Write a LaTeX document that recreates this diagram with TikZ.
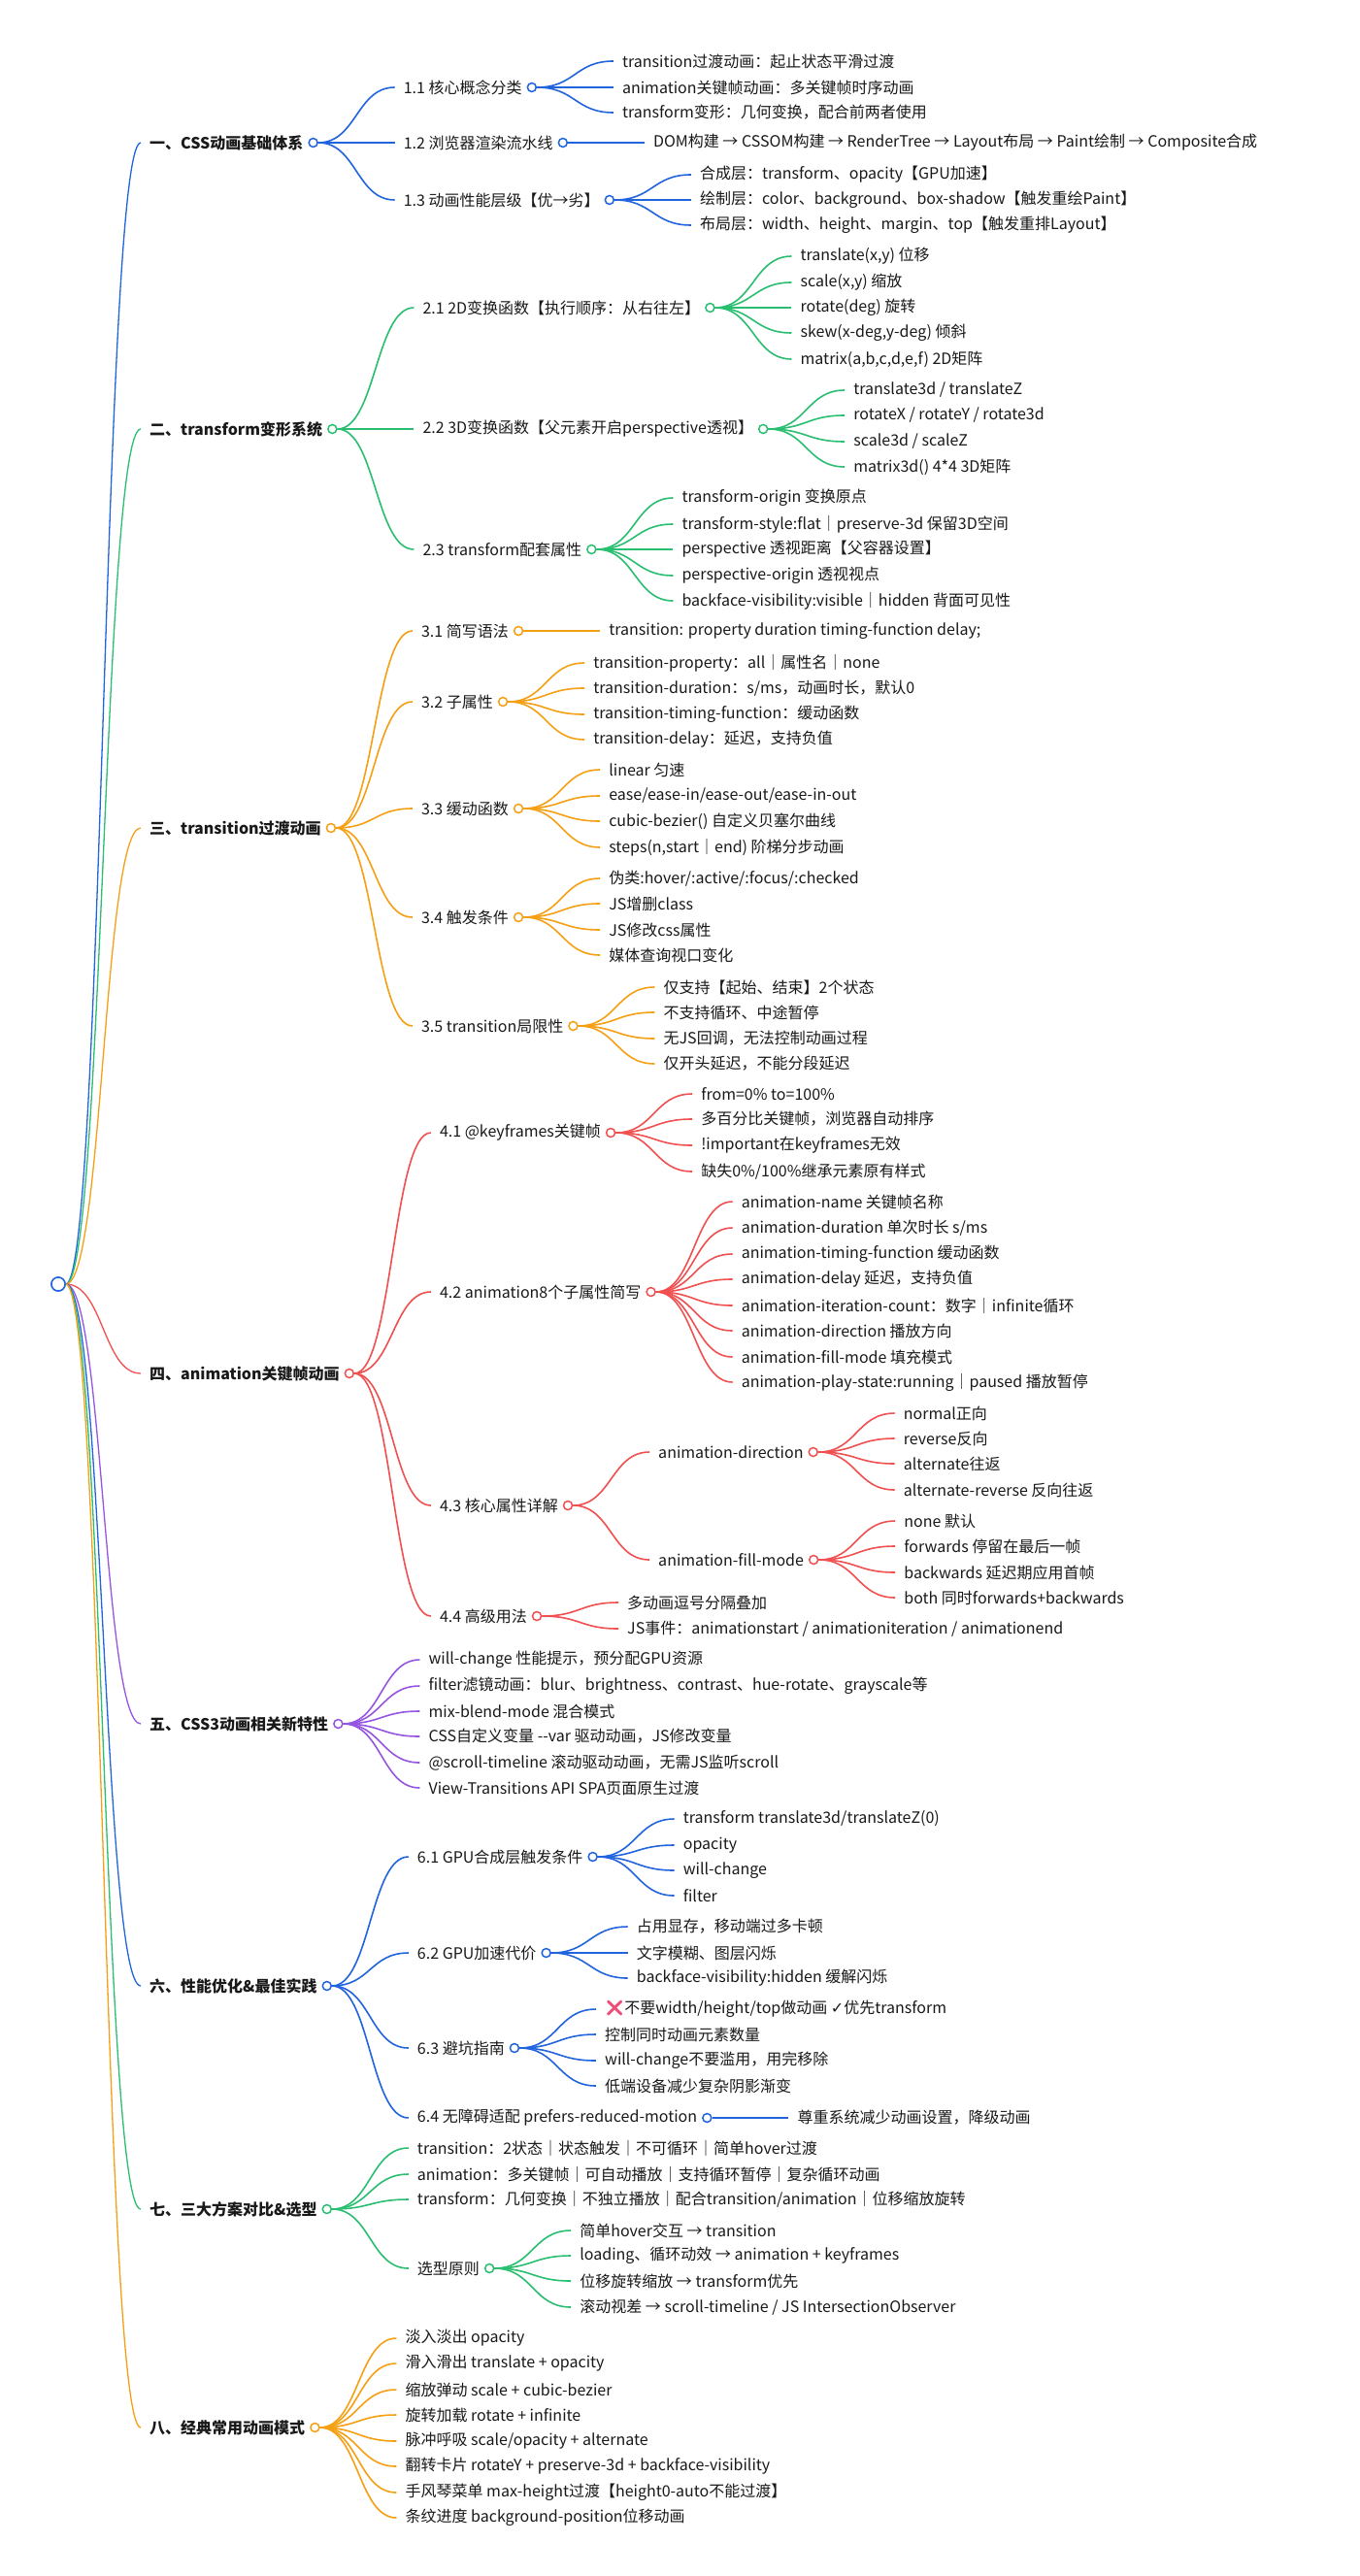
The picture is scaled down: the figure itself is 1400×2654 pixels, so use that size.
\documentclass[tikz,border=0pt]{standalone}
\usepackage{fontspec}
\setmainfont{Noto Sans CJK SC}
\newfontfamily\emo{Noto Emoji}
\newfontfamily\djv{DejaVu Sans}
\usetikzlibrary{calc}
\definecolor{cb}{RGB}{33,100,222}
\definecolor{cg}{RGB}{42,190,112}
\definecolor{co}{RGB}{245,160,20}
\definecolor{cr}{RGB}{240,80,80}
\definecolor{cp}{RGB}{150,85,225}
\definecolor{xpk}{RGB}{236,80,120}
\definecolor{txt}{RGB}{25,25,25}
\tikzset{
  lbl/.style={font=\fontsize{16}{19}\selectfont, text=txt, inner xsep=9pt, inner ysep=2pt},
  seclbl/.style={lbl, font=\fontsize{16}{19}\selectfont\bfseries},
  dot/.style={circle, fill=white, line width=1.5pt, minimum size=9pt, inner sep=0pt},
  rootdot/.style={circle, fill=white, draw=cb, line width=1.5pt, minimum size=14pt, inner sep=0pt},
  lk/.style={line width=1.6pt},
  rootlk/.style={line width=1.3pt}
}
\newcommand\lnk[3]{%
  \coordinate (mid) at ($(#2)!0.5!(#3)$);
  \draw[#1] (#2) .. controls (mid |- #2) and (mid |- #3) .. (#3);}
\newcommand\mmsec[4]{%
  \path (root.center) ++(85,0) coordinate (tmp);
  \node[seclbl,anchor=west] (#2) at (tmp |- 0,#3) {#4};
  \lnk{#1,rootlk}{root.east}{#2.west}
  \node[dot,draw=#1] (#2-dot) at ([xshift=1pt]#2.east) {};}
\newcommand\mmkid[5]{%
  \path (#2-dot.center) ++(84,0) coordinate (tmp);
  \node[lbl,anchor=west] (#3) at (tmp |- 0,#4) {#5};
  \lnk{#1,lk}{#2-dot.east}{#3.west}}
\newcommand\mmsub[5]{%
  \mmkid{#1}{#2}{#3}{#4}{#5}
  \node[dot,draw=#1] (#3-dot) at ([xshift=1pt]#3.east) {};}
\begin{document}
\begin{tikzpicture}[x=1pt,y=-1pt]
\fill[white] (0,0) rectangle (1400,2654);
\useasboundingbox (0,0) rectangle (1400,2654);
\node[rootdot] (root) at (60,1323) {};

% ---------- 1
\mmsec{cb}{s1}{147}{一、CSS动画基础体系}
\mmsub{cb}{s1}{a1}{90}{1.1 核心概念分类}
\mmkid{cb}{a1}{a1a}{63}{transition过渡动画：起止状态平滑过渡}
\mmkid{cb}{a1}{a1b}{90}{animation关键帧动画：多关键帧时序动画}
\mmkid{cb}{a1}{a1c}{116}{transform变形：几何变换，配合前两者使用}
\mmsub{cb}{s1}{a2}{147}{1.2 浏览器渲染流水线}
\mmkid{cb}{a2}{a2a}{147}{DOM构建 → CSSOM构建 → RenderTree → Layout布局 → Paint绘制 → Composite合成}
\mmsub{cb}{s1}{a3}{206}{1.3 动画性能层级【优→劣】}
\mmkid{cb}{a3}{a3a}{180}{合成层：transform、opacity【GPU加速】}
\mmkid{cb}{a3}{a3b}{206}{绘制层：color、background、box-shadow【触发重绘Paint】}
\mmkid{cb}{a3}{a3c}{232}{布局层：width、height、margin、top【触发重排Layout】}

% ---------- 2
\mmsec{cg}{s2}{442}{二、transform变形系统}
\mmsub{cg}{s2}{b1}{317}{2.1 2D变换函数【执行顺序：从右往左】}
\mmkid{cg}{b1}{b1a}{264}{translate(x,y) 位移}
\mmkid{cg}{b1}{b1b}{291}{scale(x,y) 缩放}
\mmkid{cg}{b1}{b1c}{317}{rotate(deg) 旋转}
\mmkid{cg}{b1}{b1d}{343}{skew(x-deg,y-deg) 倾斜}
\mmkid{cg}{b1}{b1e}{370}{matrix(a,b,c,d,e,f) 2D矩阵}
\mmsub{cg}{s2}{b2}{442}{2.2 3D变换函数【父元素开启perspective透视】}
\mmkid{cg}{b2}{b2a}{402}{translate3d / translateZ}
\mmkid{cg}{b2}{b2b}{428}{rotateX / rotateY / rotate3d}
\mmkid{cg}{b2}{b2c}{455}{scale3d / scaleZ}
\mmkid{cg}{b2}{b2d}{481}{matrix3d() 4*4 3D矩阵}
\mmsub{cg}{s2}{b3}{566}{2.3 transform配套属性}
\mmkid{cg}{b3}{b3a}{513}{transform-origin 变换原点}
\mmkid{cg}{b3}{b3b}{540}{transform-style:flat｜preserve-3d 保留3D空间}
\mmkid{cg}{b3}{b3c}{566}{perspective 透视距离【父容器设置】}
\mmkid{cg}{b3}{b3d}{593}{perspective-origin 透视视点}
\mmkid{cg}{b3}{b3e}{619}{backface-visibility:visible｜hidden 背面可见性}

% ---------- 3
\mmsec{co}{s3}{853}{三、transition过渡动画}
\mmsub{co}{s3}{c1}{650}{3.1 简写语法}
\mmkid{co}{c1}{c1a}{650}{transition: property duration timing-function delay;}
\mmsub{co}{s3}{c2}{723}{3.2 子属性}
\mmkid{co}{c2}{c2a}{683}{transition-property：all｜属性名｜none}
\mmkid{co}{c2}{c2b}{709}{transition-duration：s/ms，动画时长，默认0}
\mmkid{co}{c2}{c2c}{736}{transition-timing-function：缓动函数}
\mmkid{co}{c2}{c2d}{762}{transition-delay：延迟，支持负值}
\mmsub{co}{s3}{c3}{833}{3.3 缓动函数}
\mmkid{co}{c3}{c3a}{793}{linear 匀速}
\mmkid{co}{c3}{c3b}{820}{ease/ease-in/ease-out/ease-in-out}
\mmkid{co}{c3}{c3c}{846}{cubic-bezier() 自定义贝塞尔曲线}
\mmkid{co}{c3}{c3d}{873}{steps(n,start｜end) 阶梯分步动画}
\mmsub{co}{s3}{c4}{945}{3.4 触发条件}
\mmkid{co}{c4}{c4a}{905}{伪类:hover/:active/:focus/:checked}
\mmkid{co}{c4}{c4b}{931}{JS增删class}
\mmkid{co}{c4}{c4c}{958}{JS修改css属性}
\mmkid{co}{c4}{c4d}{984}{媒体查询视口变化}
\mmsub{co}{s3}{c5}{1057}{3.5 transition局限性}
\mmkid{co}{c5}{c5a}{1017}{仅支持【起始、结束】2个状态}
\mmkid{co}{c5}{c5b}{1043}{不支持循环、中途暂停}
\mmkid{co}{c5}{c5c}{1070}{无JS回调，无法控制动画过程}
\mmkid{co}{c5}{c5d}{1096}{仅开头延迟，不能分段延迟}

% ---------- 4
\mmsec{cr}{s4}{1415}{四、animation关键帧动画}
\mmsub{cr}{s4}{d1}{1167}{4.1 @keyframes关键帧}
\mmkid{cr}{d1}{d1a}{1127}{from=0\% to=100\%}
\mmkid{cr}{d1}{d1b}{1153}{多百分比关键帧，浏览器自动排序}
\mmkid{cr}{d1}{d1c}{1180}{!important在keyframes无效}
\mmkid{cr}{d1}{d1d}{1207}{缺失0\%/100\%继承元素原有样式}
\mmsub{cr}{s4}{d2}{1331}{4.2 animation8个子属性简写}
\mmkid{cr}{d2}{d2a}{1238}{animation-name 关键帧名称}
\mmkid{cr}{d2}{d2b}{1265}{animation-duration 单次时长 s/ms}
\mmkid{cr}{d2}{d2c}{1292}{animation-timing-function 缓动函数}
\mmkid{cr}{d2}{d2d}{1318}{animation-delay 延迟，支持负值}
\mmkid{cr}{d2}{d2e}{1345}{animation-iteration-count：数字｜infinite循环}
\mmkid{cr}{d2}{d2f}{1371}{animation-direction 播放方向}
\mmkid{cr}{d2}{d2g}{1398}{animation-fill-mode 填充模式}
\mmkid{cr}{d2}{d2h}{1424}{animation-play-state:running｜paused 播放暂停}
\mmsub{cr}{s4}{d3}{1551}{4.3 核心属性详解}
\mmsub{cr}{d3}{e1}{1496}{animation-direction}
\mmkid{cr}{e1}{e1a}{1456}{normal正向}
\mmkid{cr}{e1}{e1b}{1482}{reverse反向}
\mmkid{cr}{e1}{e1c}{1508}{alternate往返}
\mmkid{cr}{e1}{e1d}{1535}{alternate-reverse 反向往返}
\mmsub{cr}{d3}{e2}{1607}{animation-fill-mode}
\mmkid{cr}{e2}{e2a}{1567}{none 默认}
\mmkid{cr}{e2}{e2b}{1593}{forwards 停留在最后一帧}
\mmkid{cr}{e2}{e2c}{1620}{backwards 延迟期应用首帧}
\mmkid{cr}{e2}{e2d}{1646}{both 同时forwards+backwards}
\mmsub{cr}{s4}{d4}{1665}{4.4 高级用法}
\mmkid{cr}{d4}{d4a}{1651}{多动画逗号分隔叠加}
\mmkid{cr}{d4}{d4b}{1678}{JS事件：animationstart / animationiteration / animationend}

% ---------- 5
\mmsec{cp}{s5}{1776}{五、CSS3动画相关新特性}
\mmkid{cp}{s5}{s5a}{1710}{will-change 性能提示，预分配GPU资源}
\mmkid{cp}{s5}{s5b}{1737}{filter滤镜动画：blur、brightness、contrast、hue-rotate、grayscale等}
\mmkid{cp}{s5}{s5d}{1763}{mix-blend-mode 混合模式}
\mmkid{cp}{s5}{s5e}{1789}{CSS自定义变量 -{}-var 驱动动画，JS修改变量}
\mmkid{cp}{s5}{s5f}{1816}{@scroll-timeline 滚动驱动动画，无需JS监听scroll}
\mmkid{cp}{s5}{s5g}{1842}{View-Transitions API SPA页面原生过渡}

% ---------- 6
\mmsec{cb}{s6}{2046}{六、性能优化\&最佳实践}
\mmsub{cb}{s6}{f1}{1913}{6.1 GPU合成层触发条件}
\mmkid{cb}{f1}{f1a}{1874}{transform translate3d/translateZ(0)}
\mmkid{cb}{f1}{f1b}{1901}{opacity}
\mmkid{cb}{f1}{f1c}{1927}{will-change}
\mmkid{cb}{f1}{f1d}{1953}{filter}
\mmsub{cb}{s6}{f2}{2012}{6.2 GPU加速代价}
\mmkid{cb}{f2}{f2a}{1985}{占用显存，移动端过多卡顿}
\mmkid{cb}{f2}{f2b}{2012}{文字模糊、图层闪烁}
\mmkid{cb}{f2}{f2c}{2038}{backface-visibility:hidden 缓解闪烁}
\mmsub{cb}{s6}{f3}{2110}{6.3 避坑指南}
\mmkid{cb}{f3}{f3a}{2070}{{\emo\textcolor{xpk}{❌}}不要width/height/top做动画 {\djv ✓}优先transform}
\mmkid{cb}{f3}{f3b}{2096}{控制同时动画元素数量}
\mmkid{cb}{f3}{f3c}{2123}{will-change不要滥用，用完移除}
\mmkid{cb}{f3}{f3d}{2149}{低端设备减少复杂阴影渐变}
\mmsub{cb}{s6}{f4}{2182}{6.4 无障碍适配 prefers-reduced-motion}
\mmkid{cb}{f4}{f4a}{2182}{尊重系统减少动画设置，降级动画}

% ---------- 7
\mmsec{cg}{s7}{2276}{七、三大方案对比\&选型}
\mmkid{cg}{s7}{g1}{2213}{transition：2状态｜状态触发｜不可循环｜简单hover过渡}
\mmkid{cg}{s7}{g2}{2240}{animation：多关键帧｜可自动播放｜支持循环暂停｜复杂循环动画}
\mmkid{cg}{s7}{g3}{2266}{transform：几何变换｜不独立播放｜配合transition/animation｜位移缩放旋转}
\mmsub{cg}{s7}{g4}{2337}{选型原则}
\mmkid{cg}{g4}{g4a}{2298}{简单hover交互 → transition}
\mmkid{cg}{g4}{g4b}{2324}{loading、循环动效 → animation + keyframes}
\mmkid{cg}{g4}{g4c}{2350}{位移旋转缩放 → transform优先}
\mmkid{cg}{g4}{g4d}{2377}{滚动视差 → scroll-timeline / JS IntersectionObserver}

% ---------- 8
\mmsec{co}{s8}{2501}{八、经典常用动画模式}
\mmkid{co}{s8}{h1}{2409}{淡入淡出 opacity}
\mmkid{co}{s8}{h2}{2435}{滑入滑出 translate + opacity}
\mmkid{co}{s8}{h3}{2462}{缩放弹动 scale + cubic-bezier}
\mmkid{co}{s8}{h4}{2488}{旋转加载 rotate + infinite}
\mmkid{co}{s8}{h5}{2515}{脉冲呼吸 scale/opacity + alternate}
\mmkid{co}{s8}{h6}{2541}{翻转卡片 rotateY + preserve-3d + backface-visibility}
\mmkid{co}{s8}{h7}{2568}{手风琴菜单 max-height过渡【height0-auto不能过渡】}
\mmkid{co}{s8}{h8}{2594}{条纹进度 background-position位移动画}

\node[rootdot] (root2) at (root.center) {};
\end{tikzpicture}
\end{document}
